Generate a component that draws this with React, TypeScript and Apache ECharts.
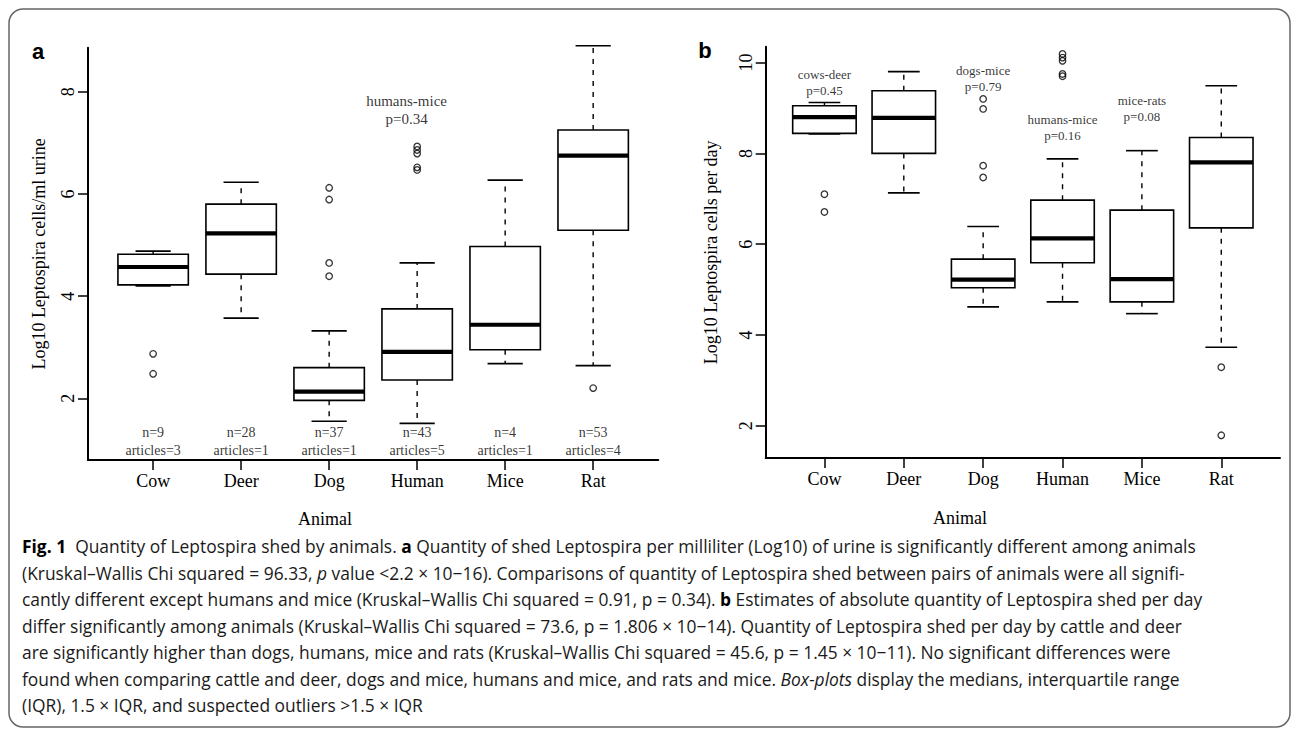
import React, { useEffect, useRef } from "react";
import * as echarts from "echarts";

// ---------- data ----------
const animals = ["Cow", "Deer", "Dog", "Human", "Mice", "Rat"];

// panel a: Log10 Leptospira cells/ml urine  [low whisker, Q1, median, Q3, high whisker]
const urineBoxes = [
  [4.2, 4.22, 4.57, 4.82, 4.88],
  [3.57, 4.43, 5.23, 5.8, 6.23],
  [1.55, 1.96, 2.13, 2.6, 3.32],
  [1.51, 2.36, 2.91, 3.75, 4.65],
  [2.68, 2.95, 3.44, 4.97, 6.27],
  [2.64, 5.29, 6.75, 7.25, 8.9],
];
// [animal index, value]
const urineOutliers = [
  [0, 2.87], [0, 2.48],
  [2, 6.12], [2, 5.89], [2, 4.65], [2, 4.39],
  [3, 6.93], [3, 6.86], [3, 6.79], [3, 6.52], [3, 6.47],
  [5, 2.2],
];
const sampleN = [9, 28, 37, 43, 4, 53];
const articleCount = [3, 1, 1, 5, 1, 4];
const urineTests = [{ pair: "humans-mice", p: "0.34" }];

// panel b: Log10 Leptospira cells per day
const perDayBoxes = [
  [8.43, 8.44, 8.8, 9.05, 9.12],
  [7.13, 8.0, 8.78, 9.38, 9.8],
  [4.62, 5.04, 5.22, 5.67, 6.39],
  [4.73, 5.59, 6.13, 6.97, 7.88],
  [4.47, 4.73, 5.23, 6.75, 8.06],
  [3.73, 6.36, 7.8, 8.35, 9.49],
];
const perDayOutliers = [
  [0, 7.1], [0, 6.71],
  [2, 9.2], [2, 8.98], [2, 7.73], [2, 7.47],
  [3, 10.19], [3, 10.11], [3, 10.04], [3, 9.75], [3, 9.7],
  [5, 3.29], [5, 1.79],
];
const perDayTests = [
  { pair: "cows-deer", p: "0.45" },
  { pair: "dogs-mice", p: "0.79" },
  { pair: "humans-mice", p: "0.16" },
  { pair: "mice-rats", p: "0.08" },
];

const urineTicks = [2, 4, 6, 8];
const perDayTicks = [2, 4, 6, 8, 10];

const captionLines = [
  "{b|Fig. 1}  Quantity of Leptospira shed by animals. {b|a} Quantity of shed Leptospira per milliliter (Log10) of urine is significantly different among animals",
  "(Kruskal–Wallis Chi squared = 96.33, {i|p} value <2.2 × 10−16). Comparisons of quantity of Leptospira shed between pairs of animals were all signifi-",
  "cantly different except humans and mice (Kruskal–Wallis Chi squared = 0.91, p = 0.34). {b|b} Estimates of absolute quantity of Leptospira shed per day",
  "differ significantly among animals (Kruskal–Wallis Chi squared = 73.6, p = 1.806 × 10−14). Quantity of Leptospira shed per day by cattle and deer",
  "are significantly higher than dogs, humans, mice and rats (Kruskal–Wallis Chi squared = 45.6, p = 1.45 × 10−11). No significant differences were",
  "found when comparing cattle and deer, dogs and mice, humans and mice, and rats and mice. {i|Box-plots} display the medians, interquartile range",
  "(IQR), 1.5 × IQR, and suspected outliers >1.5 × IQR",
];

// ---------- styling / layout ----------
const SERIF = "'Liberation Serif', 'Times New Roman', serif";
const SANS = "'Open Sans', 'Liberation Sans', sans-serif";
const CAP_SIZE = 17.4;

function renderBox(params: any, api: any) {
  const x = api.value(0);
  const lo = api.coord([x, api.value(1)]);
  const q1 = api.coord([x, api.value(2)]);
  const md = api.coord([x, api.value(3)]);
  const q3 = api.coord([x, api.value(4)]);
  const hi = api.coord([x, api.value(5)]);
  const cx = lo[0];
  const w = api.size([0.8, 0])[0];
  const cap = w / 4;
  const solid = { stroke: "#000", lineWidth: 1.6 };
  const dashed = { stroke: "#000", lineWidth: 1.4, lineDash: [5, 6] };
  return {
    type: "group",
    children: [
      { type: "line", shape: { x1: cx, y1: q3[1], x2: cx, y2: hi[1] }, style: dashed },
      { type: "line", shape: { x1: cx, y1: q1[1], x2: cx, y2: lo[1] }, style: dashed },
      { type: "line", shape: { x1: cx - cap, y1: hi[1], x2: cx + cap, y2: hi[1] }, style: solid },
      { type: "line", shape: { x1: cx - cap, y1: lo[1], x2: cx + cap, y2: lo[1] }, style: solid },
      {
        type: "rect",
        shape: { x: cx - w / 2, y: q3[1], width: w, height: q1[1] - q3[1] },
        style: { fill: "#fff", stroke: "#000", lineWidth: 1.6 },
      },
      {
        type: "line",
        shape: { x1: cx - w / 2, y1: md[1], x2: cx + w / 2, y2: md[1] },
        style: { stroke: "#000", lineWidth: 4.2 },
      },
    ],
  };
}

function makeXAxis(gridIndex: number) {
  return {
    type: "value",
    gridIndex,
    min: -0.74,
    max: 5.74,
    splitLine: { show: false },
    axisLine: { show: true, onZero: false, lineStyle: { color: "#000", width: 2 } },
    axisTick: {
      show: true,
      length: 10,
      customValues: animals.map((_, i) => i),
      lineStyle: { color: "#000", width: 1.5 },
    },
    axisLabel: {
      show: true,
      margin: 12,
      customValues: animals.map((_, i) => i),
      formatter: (v: number) => animals[Math.round(v)] ?? "",
      color: "#000",
      fontFamily: SERIF,
      fontSize: 18,
    },
  };
}

function makeYAxis(gridIndex: number, min: number, max: number, ticks: number[], name: string, gap: number) {
  return {
    type: "value",
    gridIndex,
    min,
    max,
    name,
    nameLocation: "middle",
    nameRotate: 90,
    nameGap: gap,
    nameTextStyle: { color: "#000", fontFamily: SERIF, fontSize: 18 },
    splitLine: { show: false },
    axisLine: { show: true, onZero: false, lineStyle: { color: "#000", width: 2 } },
    axisTick: { show: true, length: 10, customValues: ticks, lineStyle: { color: "#000", width: 1.5 } },
    axisLabel: {
      show: true,
      rotate: 90,
      margin: 11,
      customValues: ticks,
      color: "#000",
      fontFamily: SERIF,
      fontSize: 18,
    },
  };
}

function boxSeries(boxes: number[][], axisIndex: number) {
  return {
    type: "custom",
    xAxisIndex: axisIndex,
    yAxisIndex: axisIndex,
    renderItem: renderBox,
    encode: { x: 0, y: [1, 2, 3, 4, 5] },
    data: boxes.map((b, i) => [i, ...b]),
    z: 2,
  };
}

function outlierSeries(points: number[][], axisIndex: number) {
  return {
    type: "scatter",
    xAxisIndex: axisIndex,
    yAxisIndex: axisIndex,
    symbol: "circle",
    symbolSize: 6.5,
    itemStyle: { color: "rgba(0,0,0,0)", borderColor: "#000", borderWidth: 1.3 },
    data: points,
    z: 3,
  };
}

function testSeries(tests: { pair: string; p: string }[], anchors: number[][], axisIndex: number, size: number, lh: number) {
  return {
    type: "scatter",
    xAxisIndex: axisIndex,
    yAxisIndex: axisIndex,
    symbolSize: 0,
    data: tests.map((t, i) => ({
      value: anchors[i],
      label: { formatter: `${t.pair}\np=${t.p}` },
    })),
    label: {
      show: true,
      position: "inside",
      color: "#000",
      fontFamily: SERIF,
      fontSize: size,
      lineHeight: lh,
      align: "center",
      verticalAlign: "middle",
    },
    z: 4,
  };
}

export default function App() {
  const ref = useRef<HTMLDivElement>(null);

  useEffect(() => {
    if (!ref.current) return;
    const chart = echarts.init(ref.current, undefined, { renderer: "svg" });

    // label anchors, in axis units [animal index, value]
    const urineTestAnchors = [[2.88, 7.64]];
    const perDayTestAnchors = [[0, 9.56], [2.0, 9.65], [3, 8.57], [4, 8.98]];

    const option: any = {
      animation: false,
      backgroundColor: "#fff",
      grid: [
        { left: 88, top: 47.8, width: 570.3, height: 412.2, containLabel: false, outerBoundsMode: "none" },
        { left: 765.7, top: 46.7, width: 514.3, height: 411.3, containLabel: false, outerBoundsMode: "none" },
      ],
      xAxis: [makeXAxis(0), makeXAxis(1)],
      yAxis: [
        makeYAxis(0, 0.793, 8.86, urineTicks, "Log10 Leptospira cells/ml urine", 40),
        makeYAxis(1, 1.29, 10.35, perDayTicks, "Log10 Leptospira cells per day", 46),
      ],
      series: [
        boxSeries(urineBoxes, 0),
        outlierSeries(urineOutliers, 0),
        {
          type: "scatter",
          xAxisIndex: 0,
          yAxisIndex: 0,
          symbolSize: 0,
          data: sampleN.map((n, i) => ({
            value: [i, 1.15],
            label: { formatter: `n=${n}\narticles=${articleCount[i]}` },
          })),
          label: {
            show: true,
            position: "inside",
            color: "#000",
            fontFamily: SERIF,
            fontSize: 14,
            lineHeight: 18,
            align: "center",
            verticalAlign: "middle",
          },
          z: 4,
        },
        testSeries(urineTests, urineTestAnchors, 0, 15, 18),
        boxSeries(perDayBoxes, 1),
        outlierSeries(perDayOutliers, 1),
        testSeries(perDayTests, perDayTestAnchors, 1, 13, 16),
      ],
      graphic: [
        {
          type: "rect",
          shape: { x: 9, y: 9, width: 1281, height: 718, r: 14 },
          style: { fill: "none", stroke: "#666", lineWidth: 1.5 },
          z: 0,
        },
        {
          type: "text",
          x: 38,
          y: 51,
          style: { text: "a", fontFamily: "'Liberation Sans', Arial, sans-serif", fontWeight: "bold", fontSize: 22, fill: "#000", align: "center", verticalAlign: "middle" },
        },
        {
          type: "text",
          x: 705,
          y: 50,
          style: { text: "b", fontFamily: "'Liberation Sans', Arial, sans-serif", fontWeight: "bold", fontSize: 22, fill: "#000", align: "center", verticalAlign: "middle" },
        },
        {
          type: "text",
          x: 325,
          y: 519,
          style: { text: "Animal", fontFamily: SERIF, fontSize: 18, fill: "#000", align: "center", verticalAlign: "middle" },
        },
        {
          type: "text",
          x: 960,
          y: 518,
          style: { text: "Animal", fontFamily: SERIF, fontSize: 18, fill: "#000", align: "center", verticalAlign: "middle" },
        },
        ...captionLines.map((line, i) => ({
          type: "text",
          x: 22,
          y: 546 + i * 26.5,
          style: {
            text: line,
            fontFamily: SANS,
            fontSize: CAP_SIZE,
            fill: "#1a1a1a",
            align: "left",
            verticalAlign: "middle",
            rich: {
              b: { fontFamily: SANS, fontSize: CAP_SIZE, fontWeight: "bold", fill: "#000" },
              i: { fontFamily: SANS, fontSize: CAP_SIZE, fontStyle: "italic", fill: "#1a1a1a" },
            },
          },
        })),
      ],
    };

    chart.setOption(option);
    return () => chart.dispose();
  }, []);

  return (
    <div
      ref={ref}
      style={{ position: "fixed", left: 0, top: 0, width: 1293, height: 732, background: "#fff" }}
    />
  );
}
